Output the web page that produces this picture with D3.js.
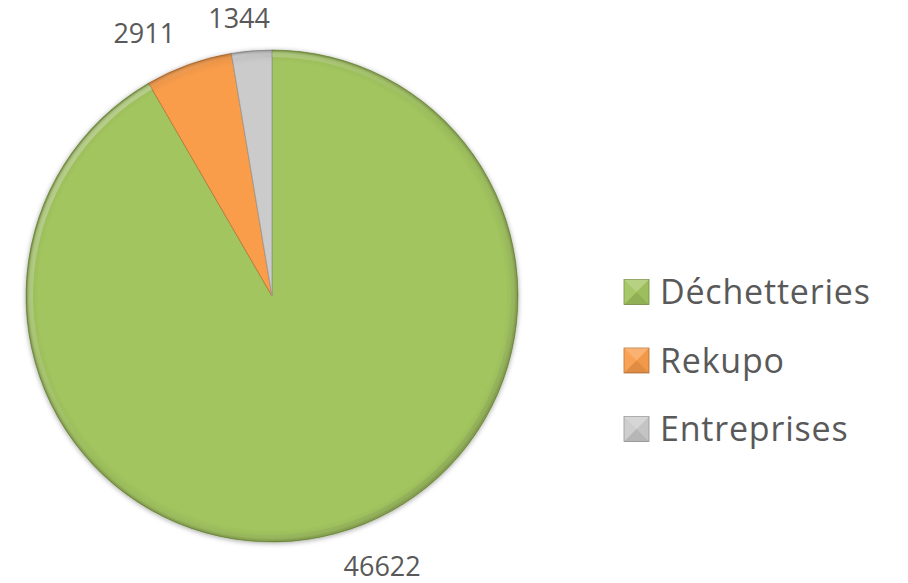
<!DOCTYPE html>
<html lang="fr">
<head>
    <meta charset="UTF-8">
    <script src="https://d3js.org/d3.v7.min.js"></script>
    <title>Pie</title>
    <style>
        body { margin: 0; background: #fff; }
        text { font-family: "Open Sans", Lato, sans-serif; fill: #595959; }
    </style>
</head>
<body>
    <script>
        // données
        var categories = ["Déchetteries", "Rekupo", "Entreprises"]
        var values = [46622, 2911, 1344]
        var colors = ["#a2c55f", "#f99d4c", "#cbcbcb"]

        var width = 908
        var height = 583
        var cx = 272, cy = 296
        var radius = 246

        var svg = d3.select("body")
            .append("svg")
            .attr("width", width)
            .attr("height", height)

        var defs = svg.append("defs")
        // ombre légère sous le camembert
        var shadow = defs.append("filter").attr("id", "shadow")
            .attr("x", "-10%").attr("y", "-10%").attr("width", "120%").attr("height", "120%")
        shadow.append("feDropShadow")
            .attr("dx", 0).attr("dy", 1).attr("stdDeviation", 2.5)
            .attr("flood-color", "#000").attr("flood-opacity", 0.35)

        // bord biseauté : assombrit le contour (coordonnées du groupe centré)
        var rim = defs.append("radialGradient").attr("id", "rim")
            .attr("gradientUnits", "userSpaceOnUse")
            .attr("cx", 0).attr("cy", 0).attr("r", radius)
        rim.append("stop").attr("offset", "0.95").attr("stop-color", "#000").attr("stop-opacity", 0)
        rim.append("stop").attr("offset", "0.985").attr("stop-color", "#000").attr("stop-opacity", 0.06)
        rim.append("stop").attr("offset", "1").attr("stop-color", "#000").attr("stop-opacity", 0.25)

        // reflet clair en haut à gauche, ombre en bas à droite
        var light = defs.append("linearGradient").attr("id", "light")
            .attr("x1", "0").attr("y1", "0").attr("x2", "1").attr("y2", "1")
        light.append("stop").attr("offset", "0").attr("stop-color", "#fff").attr("stop-opacity", 0.45)
        light.append("stop").attr("offset", "0.5").attr("stop-color", "#fff").attr("stop-opacity", 0)
        light.append("stop").attr("offset", "1").attr("stop-color", "#000").attr("stop-opacity", 0.15)

        var pie = d3.pie().sort(null).value(function (d) { return d })
        var arcs = pie(values)

        var arc = d3.arc().innerRadius(0).outerRadius(radius)
        var ring = d3.arc().innerRadius(radius - 7).outerRadius(radius - 1.5)

        var g = svg.append("g").attr("transform", "translate(" + cx + "," + cy + ")")

        var pieG = g.append("g").attr("filter", "url(#shadow)")
        pieG.selectAll("path.slice")
            .data(arcs)
            .enter()
            .append("path")
            .attr("class", "slice")
            .attr("d", arc)
            .attr("fill", function (d, i) { return colors[i] })
            .attr("stroke", function (d, i) { return d3.color(colors[i]).darker(0.8) })
            .attr("stroke-width", 0.8)
            .attr("stroke-linejoin", "round")

        g.selectAll("path.ring")
            .data(arcs)
            .enter()
            .append("path")
            .attr("class", "ring")
            .attr("d", ring)
            .attr("fill", "url(#light)")

        g.selectAll("path.rim")
            .data(arcs)
            .enter()
            .append("path")
            .attr("class", "rim")
            .attr("d", arc)
            .attr("fill", "url(#rim)")

        // étiquettes de valeurs (à l'extérieur)
        var labelFont = 27
        var gap = 22
        var labels = g.selectAll("text.val")
            .data(arcs)
            .enter()
            .append("text")
            .attr("class", "val")
            .attr("font-size", labelFont + "px")
            .attr("text-anchor", "middle")
            .attr("dominant-baseline", "central")
            .text(function (d) { return d.data })

        labels.each(function (d) {
            var t = d3.select(this)
            var w = this.getComputedTextLength() + 12
            var h = 22
            var a = (d.startAngle + d.endAngle) / 2
            var s = Math.sin(a), c = Math.cos(a)
            var px = (radius + gap) * s
            var py = -(radius + gap) * c
            var k = 3.5
            var ax = Math.max(-1, Math.min(1, k * s))
            var ay = Math.max(-1, Math.min(1, k * c))
            t.attr("x", px + ax * w / 2)
             .attr("y", py - ay * h / 2)
        })

        // légende
        var legendY = d3.scalePoint()
            .domain(categories)
            .range([292, 429])
        var sq = 25
        var legend = svg.selectAll("g.leg")
            .data(categories)
            .enter()
            .append("g")
            .attr("class", "leg")
            .attr("transform", function (d) { return "translate(624," + legendY(d) + ")" })

        legend.append("rect")
            .attr("x", 0).attr("y", -sq / 2)
            .attr("width", sq).attr("height", sq)
            .attr("fill", function (d, i) { return colors[i] })
            .attr("stroke", function (d, i) { return d3.color(colors[i]).darker(0.9) })
            .attr("stroke-width", 0.8)

        // facettes du biseau
        var h2 = sq / 2
        var facets = [
            { p: [[0, -h2], [sq, -h2], [h2, 0]], c: "#fff", o: 0.22 },
            { p: [[0, -h2], [0, h2], [h2, 0]], c: "#fff", o: 0.06 },
            { p: [[sq, -h2], [sq, h2], [h2, 0]], c: "#000", o: 0.03 },
            { p: [[0, h2], [sq, h2], [h2, 0]], c: "#000", o: 0.1 }
        ]
        legend.each(function () {
            var el = d3.select(this)
            facets.forEach(function (f) {
                el.append("path")
                    .attr("d", d3.line()(f.p) + "Z")
                    .attr("fill", f.c)
                    .attr("fill-opacity", f.o)
            })
        })

        legend.append("text")
            .attr("x", 36)
            .attr("y", 12)
            .attr("font-size", "34px")
            .attr("letter-spacing", "0.8px")
            .text(function (d) { return d })
    </script>
</body>
</html>
